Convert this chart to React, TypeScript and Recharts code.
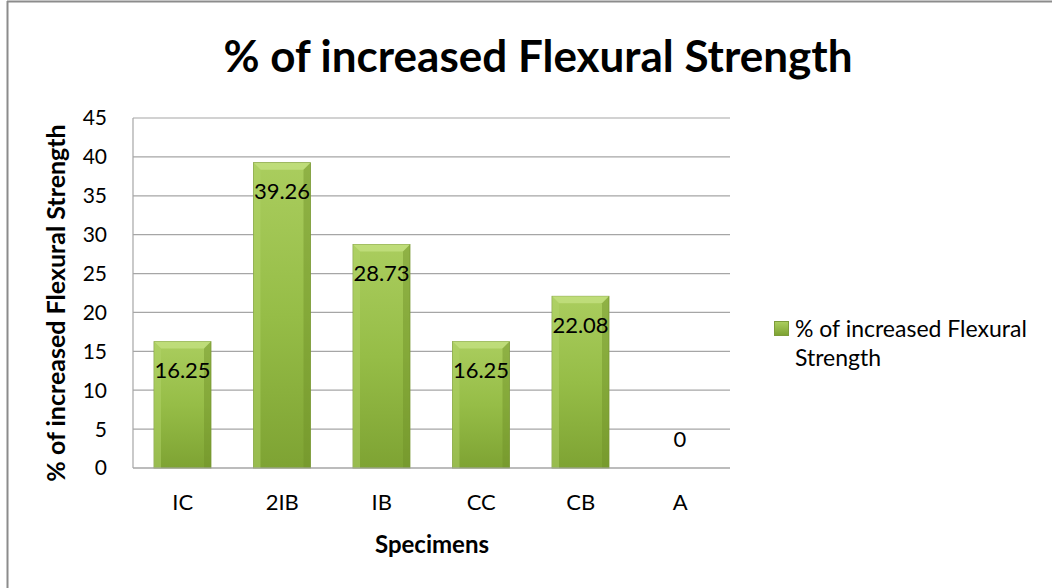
import React from "react";
import { BarChart, Bar, XAxis, YAxis, CartesianGrid, LabelList } from "recharts";

const categories = ["IC", "2IB", "IB", "CC", "CB", "A"];
const values = [16.25, 39.26, 28.73, 16.25, 22.08, 0];
const yTicks = [0, 5, 10, 15, 20, 25, 30, 35, 40, 45];
const seriesName = "% of increased Flexural Strength";
const chartTitle = "% of increased Flexural Strength";
const xTitle = "Specimens";
const yTitle = "% of increased Flexural Strength";

const data = categories.map((c, i) => ({ name: c, value: values[i] }));

const FONT = "Lato, 'Open Sans', sans-serif";

const BarShape = (props: any) => {
  const { x, y, width, height } = props;
  if (!height || height <= 0) return null;
  const b = Math.min(7, height / 2);
  return (
    <g>
      <rect x={x} y={y} width={width} height={height} fill="url(#barV)" stroke="#7d9c3a" strokeWidth={0.8} />
      <polygon points={`${x},${y} ${x + width},${y} ${x + width - b},${y + b} ${x + b},${y + b}`} fill="#c6e283" opacity={0.75} />
      <polygon points={`${x},${y} ${x + b},${y + b} ${x + b},${y + height} ${x},${y + height}`} fill="#b2d36a" opacity={0.5} />
      <polygon points={`${x + width},${y} ${x + width - b},${y + b} ${x + width - b},${y + height} ${x + width},${y + height}`} fill="#6e9128" opacity={0.45} />
    </g>
  );
};

const renderLabel = (props: any) => {
  const { x, y, width, height, value } = props;
  const cy = height > 0 ? y + 31 : y - 27;
  return (
    <text x={x + width / 2} y={cy} textAnchor="middle" dominantBaseline="middle" fontSize={22} fill="#000" fontFamily={FONT}>
      {value}
    </text>
  );
};

export default function App() {
  return (
    <div style={{ position: "absolute", left: 0, top: 0, width: 1061, height: 588, background: "#fff", fontFamily: FONT }}>
      <div style={{ position: "absolute", left: 0, top: 0 }}>
        <BarChart width={1061} height={588} data={data} margin={{ top: 118, right: 331, bottom: 90, left: 73 }}>
          <defs>
            <linearGradient id="barV" x1="0" y1="0" x2="0" y2="1">
              <stop offset="0%" stopColor="#aacd5e" />
              <stop offset="50%" stopColor="#96bd47" />
              <stop offset="100%" stopColor="#7ea333" />
            </linearGradient>
          </defs>
          <CartesianGrid vertical={false} stroke="#a6a6a6" strokeWidth={1.2} />
          <XAxis
            dataKey="name"
            height={30}
            tickLine={false}
            axisLine={{ stroke: "#a6a6a6", strokeWidth: 1.2 }}
            tick={{ fontSize: 22, fill: "#000", fontFamily: FONT }}
            tickMargin={20}
          />
          <YAxis
            width={60}
            domain={[0, 45]}
            ticks={yTicks}
            interval={0}
            tickLine={false}
            axisLine={{ stroke: "#a6a6a6", strokeWidth: 1.2 }}
            tick={{ fontSize: 21, fill: "#000", fontFamily: FONT }}
            tickMargin={20}
          />
          <Bar dataKey="value" name={seriesName} barSize={57} shape={<BarShape />} isAnimationActive={false}>
            <LabelList dataKey="value" content={renderLabel} />
          </Bar>
        </BarChart>
      </div>
      <svg width={1061} height={588} style={{ position: "absolute", left: 0, top: 0, pointerEvents: "none" }}>
        <line x1={7} y1={1.5} x2={1052} y2={1.5} stroke="#8c8c8c" strokeWidth={2} />
        <line x1={7.5} y1={1} x2={7.5} y2={588} stroke="#8c8c8c" strokeWidth={2} />
        <text x={538} y={72} textAnchor="middle" fontSize={44} fontWeight="bold" fill="#000" fontFamily={FONT}>
          {chartTitle}
        </text>
        <text x={65} y={303} textAnchor="middle" fontSize={25} fontWeight="bold" fill="#000" fontFamily={FONT} transform="rotate(-90, 65, 303)">
          {yTitle}
        </text>
        <text x={432} y={553} textAnchor="middle" fontSize={24} fontWeight="bold" fill="#000" fontFamily={FONT}>
          {xTitle}
        </text>
      </svg>
      <div style={{ position: "absolute", left: 774, top: 314, display: "flex", alignItems: "flex-start" }}>
        <div style={{ width: 13, height: 13, marginTop: 7, background: "linear-gradient(#aacd5e, #7ea333)", border: "1px solid #7d9c3a", flexShrink: 0 }} />
        <div style={{ marginLeft: 6, width: 262, fontSize: 23, lineHeight: "29px", color: "#000" }}>{seriesName}</div>
      </div>
    </div>
  );
}
